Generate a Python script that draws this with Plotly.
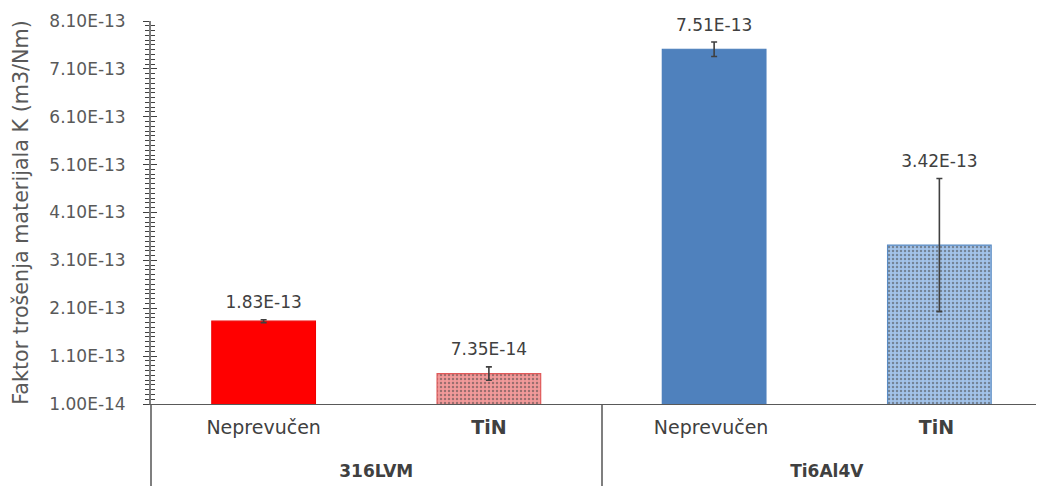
import plotly.graph_objects as go

# ---- data ----
group_names = ["316LVM", "316LVM", "Ti6Al4V", "Ti6Al4V"]
coating_names = ["Neprevučen", "TiN", "Neprevučen", "TiN"]
values = [1.83e-13, 7.35e-14, 7.51e-13, 3.42e-13]
errors = [0.03e-13, 0.14e-13, 0.15e-13, 1.39e-13]
ytick_vals = [1.0e-14 + k * 1.0e-13 for k in range(9)]
ytick_text = ["1.00E-14", "1.10E-13", "2.10E-13", "3.10E-13", "4.10E-13",
              "5.10E-13", "6.10E-13", "7.10E-13", "8.10E-13"]
y_title = "Faktor trošenja materijala K (m3/Nm)"

# ---- styles ----
bar_colors = ["#ff0000", "#f29a9a", "#4f81bd", "#a3c3ea"]
dot_colors = ["#ff0000", "#ffffff", "#4f81bd", "#ffffff"]
shapes = ["", ".", "", "."]
line_colors = ["#f00000", "#e25a5a", "#4a7ebb", "#5b8cc4"]
TXT = "#595959"
FONT = "DejaVu Sans"

def fmt_group(g):
    return f'<span style="font-size:17px"><b>{g}</b></span><br> '

def fmt_coating(c, i):
    pad = " " * (i // 2)  # keep inner labels unique per group
    txt = f"<b>{c}</b>" if c == "TiN" else c
    return txt + pad + "<br> "

x = [[fmt_group(g) for g in group_names],
     [fmt_coating(c, i) for i, c in enumerate(coating_names)]]
labels = [f"{v:.2E}" for v in values]
label_y = [v + e for v, e in zip(values, errors)]

fig = go.Figure()
fig.add_trace(go.Bar(
    x=x, y=values, width=0.46,
    marker=dict(
        color=bar_colors,
        line=dict(color=line_colors, width=1.2),
        pattern=dict(shape=shapes, fgcolor=dot_colors,
                     size=4, solidity=0.3, fillmode="overlay"),
    ),
    error_y=dict(type="data", array=errors, visible=True,
                 color="#404040", thickness=1.6, width=3),
    showlegend=False, hoverinfo="skip",
))
fig.add_trace(go.Scatter(
    x=x, y=label_y, mode="markers+text", text=labels,
    marker=dict(size=10, opacity=0),
    textposition="top center",
    textfont=dict(family=FONT, size=17, color="#404040"),
    showlegend=False, hoverinfo="skip", cliponaxis=False,
))
# invisible helper on second y axis for inward (cross) ticks
fig.add_trace(go.Scatter(x=x, y=values, yaxis="y2", mode="markers",
                         marker=dict(opacity=0), showlegend=False,
                         hoverinfo="skip"))

yrange = [1.0e-14, 8.1e-13]
fig.update_layout(
    width=1044, height=486,
    margin=dict(l=143, r=0, t=13, b=90),
    paper_bgcolor="white", plot_bgcolor="white",
    font=dict(family=FONT, color=TXT, size=17),
    xaxis=dict(
        type="multicategory", range=[-0.5, 3.5], automargin=False,
        showline=True, linecolor="#595959", linewidth=1.3,
        ticks="", showgrid=False, zeroline=False,
        tickfont=dict(family=FONT, size=19, color="#404040"),
        ticklabelstandoff=6,
        showdividers=True, dividercolor="#7f7f7f", dividerwidth=1.5,
    ),
    yaxis=dict(
        range=yrange, tickmode="array", tickvals=ytick_vals, ticktext=ytick_text,
        automargin=False,
        ticks="outside", ticklen=6, tickcolor="#404040", tickwidth=1.3,
        minor=dict(tickmode="linear", tick0=1.0e-14, dtick=1.0e-14,
                   ticks="outside", ticklen=4, tickcolor="#404040", tickwidth=1.2),
        showline=True, linecolor="#7f7f7f", linewidth=1.8,
        showgrid=False, zeroline=False,
        tickfont=dict(family=FONT, size=17, color=TXT),
        ticklabelstandoff=14,
        title=dict(text=y_title, font=dict(family=FONT, size=20.7, color=TXT)),
    ),
    yaxis2=dict(
        overlaying="y", side="left", range=yrange, automargin=False,
        tickmode="array", tickvals=ytick_vals, ticktext=[""] * len(ytick_vals),
        ticks="inside", ticklen=6, tickcolor="#404040", tickwidth=1.3,
        minor=dict(tickmode="linear", tick0=1.0e-14, dtick=1.0e-14,
                   ticks="inside", ticklen=4, tickcolor="#404040", tickwidth=1.2),
        showline=False, showgrid=False, zeroline=False,
    ),
)

fig.write_html("out.html")
